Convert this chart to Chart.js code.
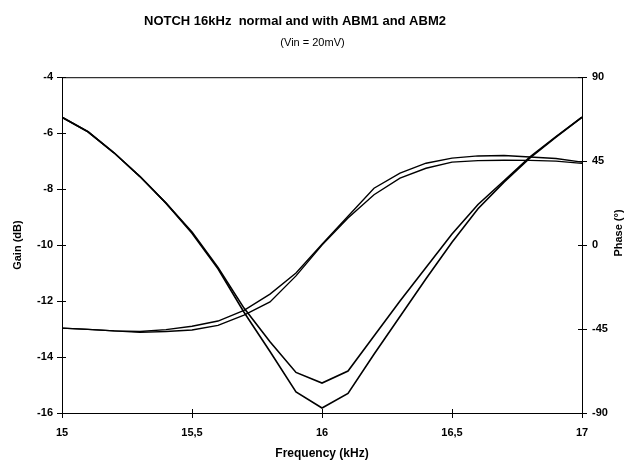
<!DOCTYPE html>
<html>
<head>
<meta charset="utf-8">
<script src="https://cdn.jsdelivr.net/npm/chart.js"></script>
<style>
  html, body { margin: 0; padding: 0; background: #fff; }
</style>
</head>
<body>
<canvas id="myChart" width="625" height="463"></canvas>
<script>
  // frequency in kHz, one reading every 0.1 kHz
  var freq = [15.0, 15.1, 15.2, 15.3, 15.4, 15.5, 15.6, 15.7, 15.8, 15.9, 16.0,
              16.1, 16.2, 16.3, 16.4, 16.5, 16.6, 16.7, 16.8, 16.9, 17.0];

  // gain in dB (left axis)
  var gainA = [-5.43, -5.95, -6.7, -7.55, -8.5, -9.53, -10.8, -12.25, -13.45, -14.55, -14.93,
               -14.5, -13.25, -12.0, -10.8, -9.6, -8.55, -7.7, -6.85, -6.12, -5.43];
  var gainB = [-5.43, -5.95, -6.7, -7.55, -8.5, -9.58, -10.85, -12.4, -13.8, -15.25, -15.82,
               -15.3, -13.9, -12.55, -11.2, -9.9, -8.7, -7.75, -6.88, -6.14, -5.43];

  // phase in degrees (right axis)
  var phaseA = [-44.5, -45.2, -46, -46.3, -45.3, -43.5, -40.7, -35, -26.3, -15, 0.5,
                15.5, 30.5, 38.6, 43.9, 46.6, 47.8, 48, 47.2, 46.4, 44.5];
  var phaseB = [-44.5, -45.2, -46, -46.8, -46.3, -45.5, -43, -37.5, -30.5, -16.5, 0,
                14.5, 27, 35.9, 41.2, 44.5, 45.3, 45.5, 45.4, 45, 43.8];

  var xTicks = [15, 15.5, 16, 16.5, 17];
  var gainTicks = [-16, -14, -12, -10, -8, -6, -4];
  var phaseTicks = [-90, -45, 0, 45, 90];

  function pts(ys) {
    return freq.map(function (f, i) { return { x: f, y: ys[i] }; });
  }

  var FONT = '"Liberation Sans", Arial, sans-serif';

  // frame round the plot, inner tick marks, main title and phase axis title
  var framePlugin = {
    id: 'frame',
    afterDraw: function (chart) {
      var a = chart.chartArea, c = chart.ctx, s = chart.scales;
      c.save();
      c.strokeStyle = '#000';
      c.lineWidth = 1;
      c.strokeRect(a.left + 0.5, a.top + 0.5, a.right - a.left, a.bottom - a.top);
      c.beginPath();
      xTicks.forEach(function (v) {
        var px = Math.round(s.x.getPixelForValue(v)) + 0.5;
        c.moveTo(px, a.bottom); c.lineTo(px, a.bottom - 4);
      });
      gainTicks.forEach(function (v) {
        var py = Math.round(s.y.getPixelForValue(v)) + 0.5;
        c.moveTo(a.left, py); c.lineTo(a.left + 4, py);
      });
      phaseTicks.forEach(function (v) {
        var py = Math.round(s.y1.getPixelForValue(v)) + 0.5;
        c.moveTo(a.right, py); c.lineTo(a.right - 4, py);
      });
      c.stroke();

      c.fillStyle = '#000';
      c.textAlign = 'center';
      c.textBaseline = 'middle';
      c.font = 'bold 13px ' + FONT;
      c.fillText('NOTCH 16kHz  normal and with ABM1 and ABM2', 295, 21);

      c.translate(chart.width - 6, 233);
      c.rotate(-Math.PI / 2);
      c.font = 'bold 11px ' + FONT;
      c.fillText('Phase (°)', 0, 0);
      c.restore();
    }
  };

  var ctx = document.getElementById('myChart').getContext('2d');
  var myChart = new Chart(ctx, {
    type: 'line',
    data: {
      datasets: [
        { label: 'Gain normal', data: pts(gainA), yAxisID: 'y', borderColor: '#000', borderWidth: 1.6 },
        { label: 'Gain ABM', data: pts(gainB), yAxisID: 'y', borderColor: '#000', borderWidth: 1.6 },
        { label: 'Phase normal', data: pts(phaseA), yAxisID: 'y1', borderColor: '#000', borderWidth: 1.4 },
        { label: 'Phase ABM', data: pts(phaseB), yAxisID: 'y1', borderColor: '#000', borderWidth: 1.4 }
      ]
    },
    plugins: [framePlugin],
    options: {
      responsive: false,
      animation: false,
      layout: { padding: 0 },
      elements: {
        point: { radius: 0 },
        line: { tension: 0, fill: false }
      },
      plugins: {
        legend: { display: false },
        tooltip: { enabled: false },
        title: { display: false },
        subtitle: {
          display: true,
          text: '(Vin = 20mV)',
          color: '#000',
          font: { family: FONT, size: 11 },
          padding: { top: 36, bottom: 28 }
        }
      },
      scales: {
        x: {
          type: 'linear',
          min: 15,
          max: 17,
          afterBuildTicks: function (scale) {
            scale.ticks = xTicks.map(function (v) { return { value: v }; });
          },
          ticks: {
            color: '#000',
            font: { family: FONT, size: 11, weight: 'bold' },
            padding: 8,
            maxRotation: 0,
            // decimal comma, no trailing zero
            callback: function (v) { return String(v).replace('.', ','); }
          },
          grid: { drawOnChartArea: false, tickLength: 5, color: '#000' },
          border: { color: '#000' },
          title: {
            display: true,
            text: 'Frequency (kHz)',
            color: '#000',
            font: { family: FONT, size: 12, weight: 'bold' },
            padding: { top: 0, bottom: 2 }
          },
          afterFit: function (scale) { scale.height = 50; }
        },
        y: {
          position: 'left',
          min: -16,
          max: -4,
          afterBuildTicks: function (scale) {
            scale.ticks = gainTicks.map(function (v) { return { value: v }; });
          },
          ticks: {
            color: '#000',
            font: { family: FONT, size: 11, weight: 'bold' },
            padding: 4,
            callback: function (v) { return String(v); }
          },
          grid: { drawOnChartArea: false, tickLength: 5, color: '#000' },
          border: { color: '#000' },
          title: {
            display: true,
            text: 'Gain (dB)',
            color: '#000',
            font: { family: FONT, size: 11, weight: 'bold' },
            padding: { top: 11, bottom: 0 }
          },
          afterFit: function (scale) { scale.width = 62; }
        },
        y1: {
          position: 'right',
          min: -90,
          max: 90,
          afterBuildTicks: function (scale) {
            scale.ticks = phaseTicks.map(function (v) { return { value: v }; });
          },
          ticks: {
            color: '#000',
            font: { family: FONT, size: 11, weight: 'bold' },
            padding: 5,
            callback: function (v) { return String(v); }
          },
          grid: { drawOnChartArea: false, tickLength: 5, color: '#000' },
          border: { color: '#000' },
          afterFit: function (scale) { scale.width = 43; }
        }
      }
    }
  });
</script>
</body>
</html>
